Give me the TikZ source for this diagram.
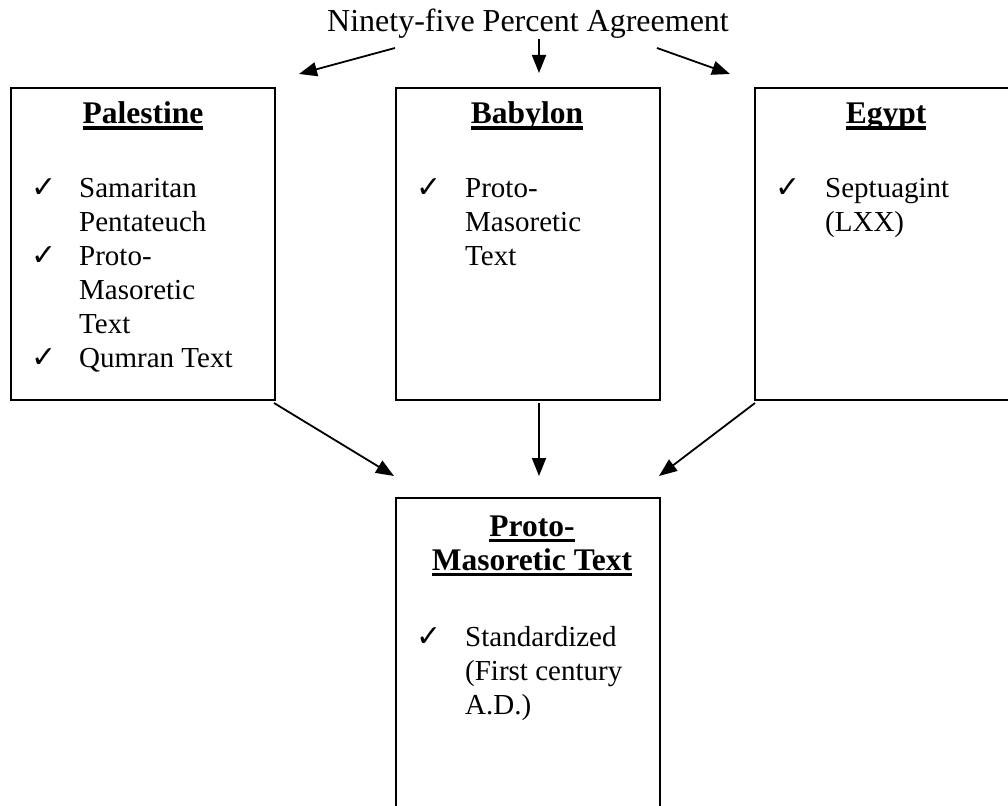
\documentclass[tikz,border=0pt]{standalone}
\usepackage{fontspec}
\setmainfont{Liberation Serif}
\newfontfamily\symfont{DejaVu Sans}
\usetikzlibrary{arrows.meta}
\newcommand\hdul[1]{\setbox0\hbox{\bfseries #1}\rlap{\rule[-6pt]{\wd0}{3.5pt}}\box0}
\newcommand\ck{{\symfont\fontsize{30}{34}\selectfont ✓}}
\begin{document}
\begin{tikzpicture}[x=1pt,y=-1pt,
  font=\fontsize{29}{34}\selectfont,
  box/.style={draw,line width=2pt,inner sep=0pt,anchor=north west,minimum width=264pt},
  txt/.style={anchor=base west,inner sep=0pt},
  head/.style={anchor=base,inner sep=0pt,font=\fontsize{31.5}{34}\selectfont},
  ttl/.style={anchor=base,inner sep=0pt,font=\fontsize{32}{34}\selectfont},
  arr/.style={line width=1.8pt,-{Triangle[length=18pt,width=14pt]}}]
\useasboundingbox (0,0) rectangle (1008,805);
\clip (0,0) rectangle (1008,805);
% title
\node[ttl] (title) at (528,32) {Ninety-five Percent Agreement};
% boxes
\node[box,minimum height=312pt] (pal) at (10,87) {};
\node[box,minimum height=312pt] (bab) at (395,87) {};
\node[box,minimum height=312pt] (egy) at (754,87) {};
\node[box,minimum height=340pt] (pmt) at (395,497) {};
% headings
\node[head] (palh) at (143,124) {\hdul{Palestine}};
\node[head] (babh) at (527,124) {\hdul{Babylon}};
\node[head] (egyh) at (886,124) {\hdul{Egypt}};
\node[head] (pmth1) at (532,536) {\hdul{Proto-}};
\node[head] (pmth2) at (532,570) {\hdul{Masoretic Text}};
% Palestine items
\node[txt] (pc1) at (31,197) {\ck};
\node[txt] (p1) at (79,197) {Samaritan};
\node[txt] (p2) at (79,231) {Pentateuch};
\node[txt] (pc2) at (31,265) {\ck};
\node[txt] (p3) at (79,265) {Proto-};
\node[txt] (p4) at (79,299) {Masoretic};
\node[txt] (p5) at (79,333) {Text};
\node[txt] (pc3) at (31,367) {\ck};
\node[txt] (p6) at (79,367) {Qumran Text};
% Babylon items
\node[txt] (bc1) at (416,197) {\ck};
\node[txt] (b1) at (465,197) {Proto-};
\node[txt] (b2) at (465,231) {Masoretic};
\node[txt] (b3) at (465,265) {Text};
% Egypt items
\node[txt] (ec1) at (775,197) {\ck};
\node[txt] (e1) at (825,197) {Septuagint};
\node[txt] (e2) at (825,231) {(LXX)};
% bottom items
\node[txt] (sc1) at (416,646) {\ck};
\node[txt] (s1) at (465,646) {Standardized};
\node[txt] (s2) at (465,680) {(First century};
\node[txt] (s3) at (465,714) {A.D.)};
% arrow ends
\coordinate (a1s) at (395,48); \coordinate (a1e) at (299,74);
\coordinate (a2s) at (539,39); \coordinate (a2e) at (539,73);
\coordinate (a3s) at (657,48); \coordinate (a3e) at (730,74);
\coordinate (a4s) at (274,403); \coordinate (a4e) at (394,476);
\coordinate (a5s) at (539,403); \coordinate (a5e) at (539,476);
\coordinate (a6s) at (755,403); \coordinate (a6e) at (659,476);
\draw[arr] (a1s) -- (a1e);
\draw[arr] (a2s) -- (a2e);
\draw[arr] (a3s) -- (a3e);
\draw[arr] (a4s) -- (a4e);
\draw[arr] (a5s) -- (a5e);
\draw[arr] (a6s) -- (a6e);
\end{tikzpicture}
\end{document}
